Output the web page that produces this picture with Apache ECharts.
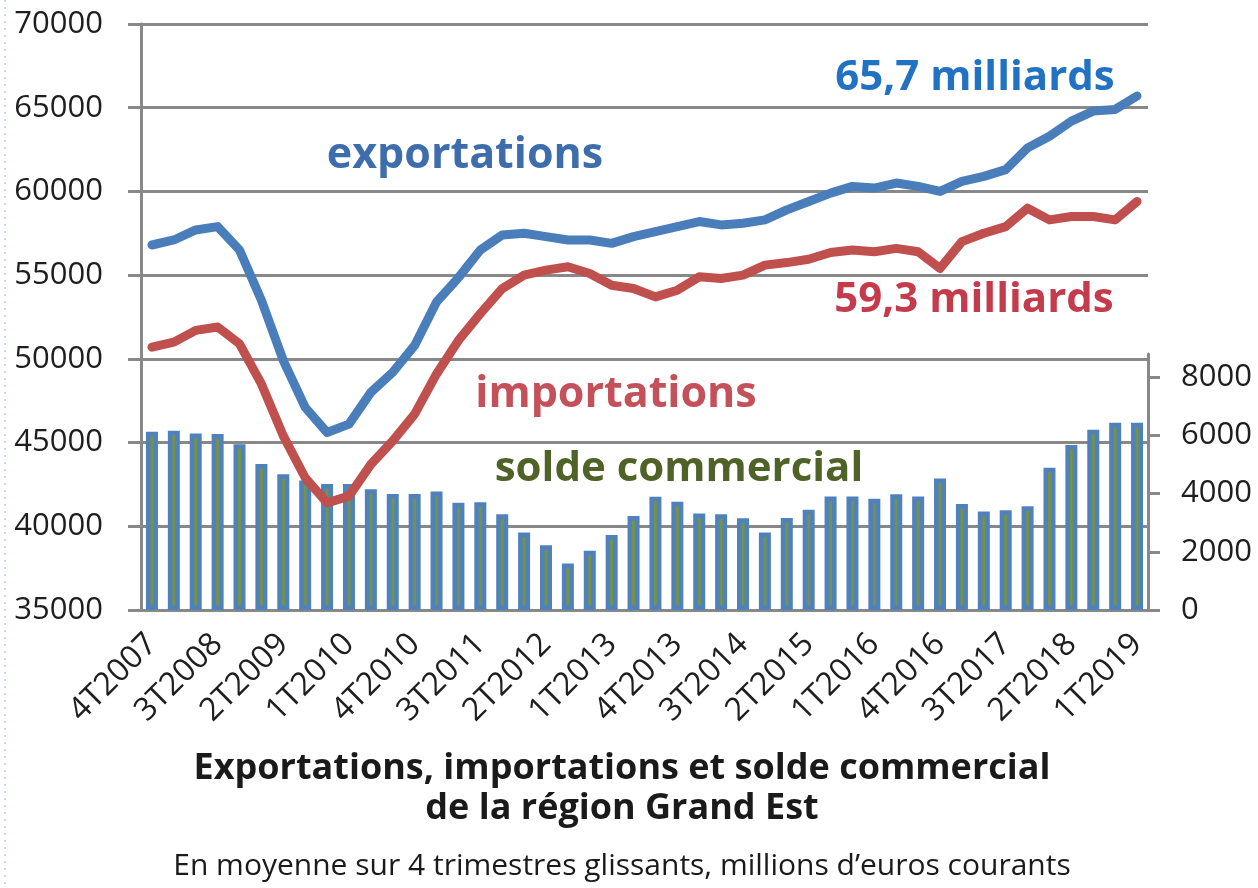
<!DOCTYPE html>
<html><head><meta charset="utf-8">
<script src="https://cdn.jsdelivr.net/npm/echarts@6/dist/echarts.min.js"></script>
<style>html,body{margin:0;padding:0;background:#fff}#c{width:1258px;height:888px}</style>
</head><body><div id="c"></div><script>
const categories = [
  '4T2007',
  '1T2008','2T2008','3T2008','4T2008',
  '1T2009','2T2009','3T2009','4T2009',
  '1T2010','2T2010','3T2010','4T2010',
  '1T2011','2T2011','3T2011','4T2011',
  '1T2012','2T2012','3T2012','4T2012',
  '1T2013','2T2013','3T2013','4T2013',
  '1T2014','2T2014','3T2014','4T2014',
  '1T2015','2T2015','3T2015','4T2015',
  '1T2016','2T2016','3T2016','4T2016',
  '1T2017','2T2017','3T2017','4T2017',
  '1T2018','2T2018','3T2018','4T2018',
  '1T2019'
];
const exportations = [
  56800, 57100, 57700, 57900, 56500, 53500, 49900, 47100, 45600, 46100,
  48000, 49200, 50800, 53400, 54850, 56500, 57400, 57500, 57300, 57100,
  57100, 56900, 57300, 57600, 57900, 58200, 58000, 58100, 58300, 58900,
  59400, 59900, 60300, 60200, 60500, 60300, 60000, 60600, 60900, 61300,
  62600, 63300, 64200, 64800, 64900, 65700
];
const importations = [
  50700, 51000, 51700, 51900, 50900, 48500, 45400, 42900, 41400, 41800,
  43700, 45100, 46700, 49100, 51100, 52700, 54200, 55000, 55300, 55500,
  55100, 54400, 54200, 53700, 54100, 54900, 54800, 55000, 55600, 55750,
  55950, 56350, 56500, 56400, 56600, 56400, 55400, 57000, 57500, 57900,
  59000, 58300, 58500, 58500, 58300, 59400
];
const solde = [
  6130, 6160, 6070, 6050, 5700, 5020, 4670, 4450, 4330, 4330,
  4150, 3990, 3990, 4070, 3690, 3700, 3290, 2660, 2230, 1600,
  2040, 2580, 3230, 3890, 3720, 3320, 3290, 3150, 2660, 3160,
  3450, 3900, 3900, 3820, 3980, 3900, 4520, 3640, 3390, 3430,
  3570, 4890, 5670, 6200, 6440, 6440
];
const rightTickValues = [0, 2000, 4000, 6000, 8000];
const titleLines = 'Exportations, importations et solde commercial\nde la région Grand Est';
const subtitle = 'En moyenne sur 4 trimestres glissants, millions d\u2019euros courants';

const GRID = '#888888';
const FONT = 'Open Sans';
const chart = echarts.init(document.getElementById('c'), null, {renderer: 'canvas'});
chart.setOption({
  animation: false,
  backgroundColor: '#ffffff',
  grid: [
    {left: 141, right: 110, top: 24, bottom: 278},
    {left: 141, right: 110, top: 354, bottom: 278}
  ],
  xAxis: [
    {
      type: 'category', gridIndex: 0, data: categories, boundaryGap: true,
      axisLine: {lineStyle: {color: GRID, width: 3}},
      axisTick: {interval: 2, length: 10, lineStyle: {color: GRID, width: 3}},
      axisLabel: {interval: 2, rotate: 45, margin: 29, color: '#1e1e1e', fontFamily: FONT, fontSize: 32}
    },
    {type: 'category', gridIndex: 1, data: categories, show: false}
  ],
  yAxis: [
    {
      type: 'value', gridIndex: 0, min: 35000, max: 70000, interval: 5000,
      axisLine: {show: true, lineStyle: {color: GRID, width: 3}},
      axisTick: {show: true, length: 13, lineStyle: {color: GRID, width: 3}},
      splitLine: {show: true, lineStyle: {color: GRID, width: 3}},
      axisLabel: {margin: 38, color: '#1e1e1e', fontFamily: FONT, fontSize: 31,
        formatter: function (v) { return String(v); }}
    },
    {
      type: 'value', gridIndex: 1, position: 'right', min: 0, max: 8800, interval: 2000,
      axisLine: {show: true, lineStyle: {color: GRID, width: 3}},
      axisTick: {show: true, length: 12, customValues: rightTickValues, lineStyle: {color: GRID, width: 3}},
      splitLine: {show: false},
      axisLabel: {
        margin: 33, color: '#1e1e1e', fontFamily: FONT, fontSize: 31,
        customValues: rightTickValues,
        formatter: function (v) { return rightTickValues.indexOf(v) >= 0 ? String(v) : ''; }
      }
    }
  ],
  series: [
    {
      type: 'bar', name: 'solde commercial', data: solde, xAxisIndex: 1, yAxisIndex: 1,
      barWidth: 12, z: 2,
      itemStyle: {color: '#74924a', borderColor: '#4F81BD', borderWidth: 4.5}
    },
    {
      type: 'line', name: 'importations', data: importations, xAxisIndex: 0, yAxisIndex: 0,
      symbol: 'none', z: 5,
      lineStyle: {color: '#C0504D', width: 9, cap: 'round', join: 'round'}
    },
    {
      type: 'line', name: 'exportations', data: exportations, xAxisIndex: 0, yAxisIndex: 0,
      symbol: 'none', z: 6,
      lineStyle: {color: '#4A7EBB', width: 9, cap: 'round', join: 'round'}
    }
  ],
  graphic: [
    {type: 'line', shape: {x1: 5, y1: 0, x2: 5, y2: 888}, style: {stroke: '#b8cbe6', lineWidth: 1.5, lineDash: [2, 5]}},
    {type: 'text', x: 465, y: 156, z: 10, style: {text: 'exportations', fill: '#3E6DAE', font: 'bold 43px "Open Sans"', textAlign: 'center', textVerticalAlign: 'middle'}},
    {type: 'text', x: 616, y: 395, z: 10, style: {text: 'importations', fill: '#C4505A', font: 'bold 43px "Open Sans"', textAlign: 'center', textVerticalAlign: 'middle'}},
    {type: 'text', x: 679, y: 469, z: 10, style: {text: 'solde commercial', fill: '#4F6228', font: 'bold 42px "Open Sans"', textAlign: 'center', textVerticalAlign: 'middle'}},
    {type: 'text', x: 975, y: 78, z: 10, style: {text: '65,7 milliards', fill: '#2272C3', font: 'bold 42px "Open Sans"', textAlign: 'center', textVerticalAlign: 'middle'}},
    {type: 'text', x: 974, y: 300, z: 10, style: {text: '59,3 milliards', fill: '#C43B4B', font: 'bold 42px "Open Sans"', textAlign: 'center', textVerticalAlign: 'middle'}},
    {type: 'text', x: 622, y: 789, z: 10, style: {text: titleLines, fill: '#1a1a1a', font: 'bold 36px "Open Sans"', lineHeight: 40, textAlign: 'center', textVerticalAlign: 'middle'}},
    {type: 'text', x: 622, y: 866, z: 10, style: {text: subtitle, fill: '#1a1a1a', font: '30px "Open Sans"', textAlign: 'center', textVerticalAlign: 'middle'}}
  ]
});
</script></body></html>
